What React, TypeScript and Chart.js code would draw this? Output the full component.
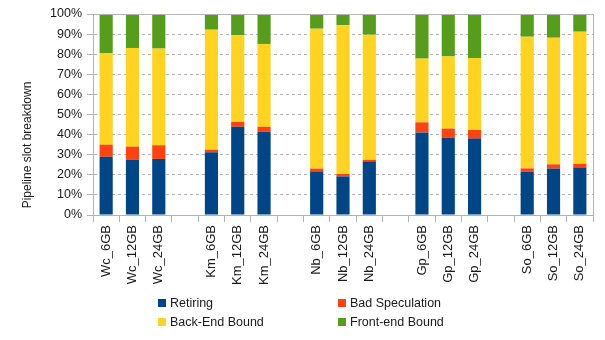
import React, { useEffect, useRef } from "react";
import { Chart, registerables } from "chart.js";

Chart.register(...registerables);

const categories = [
  "Wc_6GB", "Wc_12GB", "Wc_24GB", "",
  "Km_6GB", "Km_12GB", "Km_24GB", "",
  "Nb_6GB", "Nb_12GB", "Nb_24GB", "",
  "Gp_6GB", "Gp_12GB", "Gp_24GB", "",
  "So_6GB", "So_12GB", "So_24GB",
];

const retiring = [29.0, 27.4, 27.9, null, 31.2, 43.9, 41.6, null, 21.7, 19.2, 26.7, null, 41.1, 38.6, 38.0, null, 21.6, 23.1, 23.7];
const badSpeculation = [6.0, 6.6, 6.8, null, 1.3, 2.4, 2.3, null, 1.4, 1.2, 0.7, null, 5.0, 4.4, 4.3, null, 1.6, 2.1, 1.8];
const backEndBound = [45.6, 49.1, 48.1, null, 59.7, 43.1, 41.2, null, 69.6, 74.0, 62.3, null, 31.7, 35.9, 35.8, null, 65.5, 63.0, 65.7];
const frontEndBound = [19.4, 16.9, 17.2, null, 7.8, 10.6, 14.9, null, 7.3, 5.6, 10.3, null, 22.2, 21.1, 21.9, null, 11.3, 11.8, 8.8];

const seriesNames = ["Retiring", "Bad Speculation", "Back-End Bound", "Front-end Bound"];
const seriesColors = ["#004586", "#ff420e", "#ffd320", "#579d1c"];
const yTitle = "Pipeline slot breakdown";

const FONT = "'Liberation Sans', Arial, sans-serif";
const TEXT = "#1a1a1a";
const GRID = "#b3b3b3";

const extrasPlugin = {
  id: "extras",
  afterDraw(chart: any) {
    const { ctx, chartArea } = chart;
    ctx.save();
    ctx.strokeStyle = GRID;
    ctx.lineWidth = 1;
    ctx.beginPath();
    ctx.moveTo(chartArea.left, chartArea.top + 0.5);
    ctx.lineTo(chartArea.right + 0.5, chartArea.top + 0.5);
    ctx.lineTo(chartArea.right + 0.5, chartArea.bottom);
    ctx.stroke();
    ctx.fillStyle = TEXT;
    ctx.font = `12px ${FONT}`;
    ctx.textAlign = "center";
    ctx.textBaseline = "middle";
    ctx.translate(28, 145);
    ctx.rotate(-Math.PI / 2);
    ctx.fillText(yTitle, 0, 0);
    ctx.restore();

    ctx.save();
    ctx.font = `12.5px ${FONT}`;
    ctx.textAlign = "left";
    ctx.textBaseline = "middle";
    const cols = [158, 338];
    const rows = [303, 322];
    chart.data.datasets.forEach((ds: any, i: number) => {
      const x = cols[i % 2];
      const y = rows[Math.floor(i / 2)];
      ctx.fillStyle = ds.backgroundColor;
      ctx.fillRect(x, y - 4, 8, 8);
      ctx.fillStyle = TEXT;
      ctx.fillText(ds.label, x + 12, y + 0.5);
    });
    ctx.restore();
  },
};

export default function App() {
  const canvasRef = useRef<HTMLCanvasElement | null>(null);

  useEffect(() => {
    const canvas = canvasRef.current;
    if (!canvas) return;
    const values = [retiring, badSpeculation, backEndBound, frontEndBound];
    const chart = new Chart(canvas, {
      type: "bar",
      data: {
        labels: categories,
        datasets: values.map((d, i) => ({
          label: seriesNames[i],
          data: d as any,
          backgroundColor: seriesColors[i],
          borderWidth: 0,
          barPercentage: 0.5,
          categoryPercentage: 1,
        })),
      },
      options: {
        responsive: false,
        maintainAspectRatio: false,
        animation: false,
        devicePixelRatio: 1,
        layout: { padding: { top: 14, right: 12, left: 0, bottom: 0 } },
        plugins: {
          legend: { display: false },
          tooltip: { enabled: false },
          title: { display: false },
        },
        scales: {
          x: {
            stacked: true,
            grid: {
              display: true,
              drawOnChartArea: false,
              drawTicks: true,
              tickLength: 7,
              tickColor: GRID,
              color: GRID,
              offset: true,
            },
            border: { display: true, color: GRID, width: 1 },
            ticks: {
              autoSkip: false,
              minRotation: 90,
              maxRotation: 90,
              padding: 3,
              color: TEXT,
              font: { family: FONT, size: 13 },
            },
            afterFit: (scale: any) => {
              scale.height = 125;
            },
          },
          y: {
            stacked: true,
            min: 0,
            max: 100,
            grid: {
              color: GRID,
              drawTicks: true,
              tickLength: 6,
              tickColor: GRID,
            },
            border: { display: true, color: GRID, width: 1, dash: [3, 3] },
            ticks: {
              stepSize: 10,
              padding: 5,
              color: TEXT,
              font: { family: FONT, size: 12.5 },
              callback: (v: any) => `${v}%`,
            },
            afterFit: (scale: any) => {
              scale.width = 93;
            },
          },
        },
      },
      plugins: [extrasPlugin],
    });
    return () => chart.destroy();
  }, []);

  return (
    <div style={{ position: "fixed", left: 0, top: 0, width: 605, height: 340, background: "#fff" }}>
      <canvas ref={canvasRef} width={605} height={340} style={{ width: 605, height: 340, display: "block" }} />
    </div>
  );
}
